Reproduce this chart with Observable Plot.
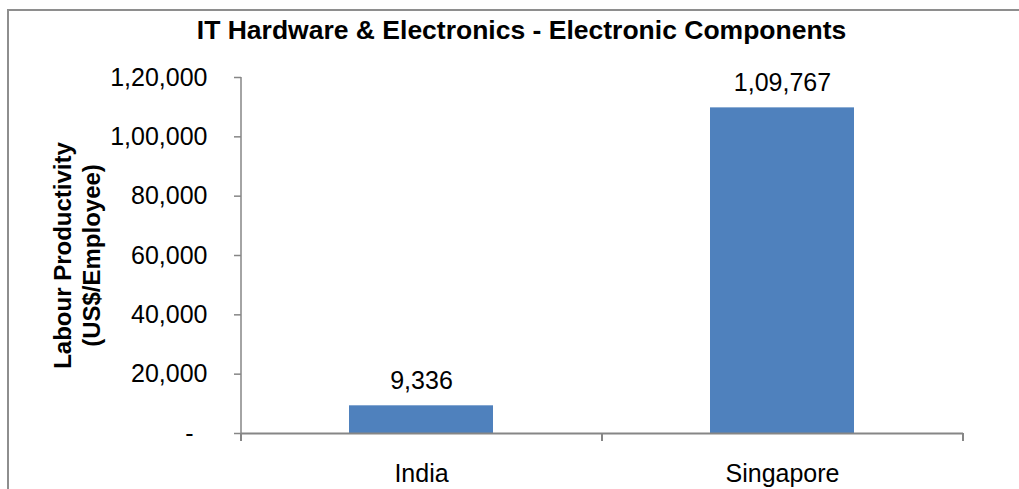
<!DOCTYPE html>
<html>
<head>
<meta charset="utf-8">
<script src="https://cdn.jsdelivr.net/npm/d3@7"></script>
<script src="https://cdn.jsdelivr.net/npm/@observablehq/plot@0.6"></script>
<style>
  html, body { margin: 0; padding: 0; background: #fff; overflow: hidden; }
  #wrap { position: relative; width: 1019px; height: 489px; }
  #border { position: absolute; left: 7px; top: 9px; width: 1030px; height: 500px;
            border-left: 2px solid #8e8e8e; border-top: 2px solid #8e8e8e; box-sizing: border-box; pointer-events: none; }
  #wrap svg { position: absolute; left: 0; top: 0; }
</style>
</head>
<body>
<div id="wrap"><div id="border"></div></div>
<script>
const title = "IT Hardware & Electronics - Electronic Components";
const yLabel = "Labour Productivity\n(US$/Employee)";
const categories = ["India", "Singapore"];
const values = [9336, 109767];
const yTicks = [0, 20000, 40000, 60000, 80000, 100000, 120000];

const data = categories.map((c, i) => ({country: c, value: values[i]}));
const inr = d3.formatLocale({decimal: ".", thousands: ",", grouping: [3, 2, 2, 2, 2, 2], currency: ["", ""]});
const fmt = inr.format(",d");
const tickFmt = d => d === 0 ? "-\u2007" : fmt(d);

const font = "Liberation Sans, Arial, Helvetica, sans-serif";
const frameH = 489 - 77 - 56;
const step = (963 - 241) / 2;

const chart = Plot.plot({
  width: 1019,
  height: 489,
  marginTop: 77,
  marginBottom: 56,
  marginLeft: 241,
  marginRight: 56,
  style: {fontFamily: font, fontSize: "25px", color: "#000", background: "transparent", overflow: "visible"},
  x: {type: "band", domain: categories, paddingInner: 0.6, paddingOuter: 0.3, label: null},
  y: {domain: [0, 120000], label: null},
  marks: [
    Plot.barY(data, {x: "country", y: "value", fill: "#4f81bd"}),
    // y axis line (left edge of first band step)
    Plot.ruleX([categories[0]], {x: d => d, dx: -step / 2, stroke: "#868686", strokeWidth: 1.5}),
    Plot.axisY({ticks: yTicks, tickFormat: tickFmt, tickSize: 7, tickPadding: 27, stroke: "#868686", strokeWidth: 1.5, strokeOpacity: 1, fontSize: 25, fill: "#000", label: null}),
    // x axis line
    Plot.ruleY([0], {stroke: "#868686", strokeWidth: 2}),
    // category boundary ticks
    Plot.ruleX(categories, {x: d => d, dx: -step / 2, insetTop: frameH - 8, dy: 8, stroke: "#868686", strokeWidth: 2}),
    Plot.ruleX([categories[categories.length - 1]], {x: d => d, dx: step / 2, insetTop: frameH - 8, dy: 8, stroke: "#868686", strokeWidth: 2}),
    Plot.axisX({tickSize: 0, tickPadding: 31, fontSize: 25, fill: "#000", label: null}),
    // value labels
    Plot.text(data, {x: "country", y: "value", text: d => fmt(d.value), lineAnchor: "bottom", dy: -17, fontSize: 25, fill: "#000"}),
    // title
    Plot.text([title], {frameAnchor: "top-left", dx: 521 - 241, dy: -39, textAnchor: "middle", lineAnchor: "bottom", fontSize: 26.5, fontWeight: "bold", fill: "#000"}),
    // y label
    Plot.text([yLabel], {frameAnchor: "left", dx: -165, rotate: -90, textAnchor: "middle", lineAnchor: "middle", lineHeight: 1.18, fontSize: 24, fontWeight: "bold", fill: "#000"})
  ]
});
document.getElementById("wrap").prepend(chart);
</script>
</body>
</html>
